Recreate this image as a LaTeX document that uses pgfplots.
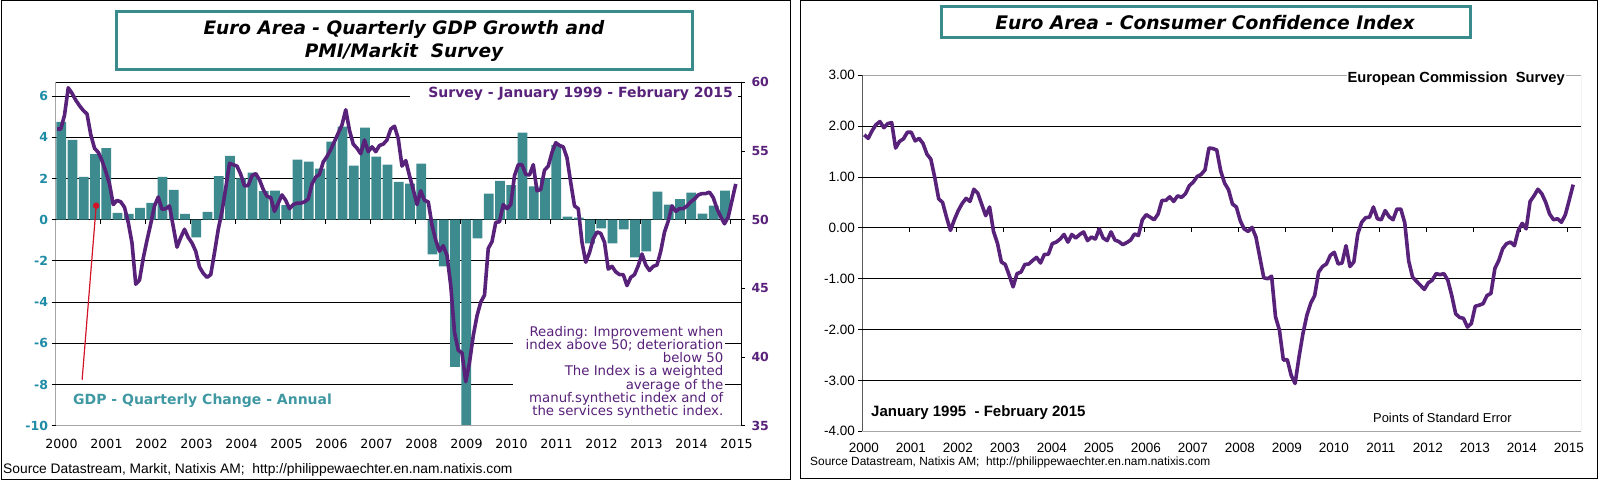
\documentclass[border=0pt]{standalone}
\usepackage{fontspec}
\setmainfont{DejaVu Sans}
\newfontfamily\lib{Liberation Sans}
\usepackage{pgfplots}
\usepackage{pgfplotstable}
\pgfplotsset{compat=1.18}

\definecolor{barteal}{RGB}{61,139,143}
\definecolor{pmipurple}{RGB}{88,33,122}
\definecolor{lblteal}{RGB}{30,140,165}
\definecolor{gdptxt}{RGB}{64,152,162}
\definecolor{boxteal}{RGB}{58,140,140}
\definecolor{annred}{RGB}{210,20,40}

\pgfplotstableread{
q v
0 4.75
1 3.87
2 2.08
3 3.18
4 3.47
5 0.33
6 0.28
7 0.57
8 0.82
9 2.08
10 1.45
11 0.28
12 -0.86
13 0.38
14 2.11
15 3.09
16 2.01
17 2.28
18 1.39
19 1.41
20 0.70
21 2.91
22 2.82
23 2.48
24 3.79
25 4.51
26 2.62
27 4.47
28 3.06
29 2.67
30 1.84
31 1.75
32 2.72
33 -1.68
34 -2.27
35 -7.15
36 -11.5
37 -0.91
38 1.26
39 1.88
40 1.68
41 4.22
42 1.62
43 2.00
44 3.62
45 0.15
46 0.10
47 -1.15
48 -0.42
49 -1.15
50 -0.47
51 -1.83
52 -1.54
53 1.36
54 0.73
55 1.00
56 1.31
57 0.29
58 0.68
59 1.41
}\gdpdata

\pgfplotstableread{
m v
0 56.6
1 56.6
2 57.6
3 59.6
4 59.2
5 58.7
6 58.3
7 57.95
8 57.7
9 56.2
10 55.2
11 54.9
12 54.3
13 53.5
14 52.6
15 51.1
16 51.4
17 51.3
18 50.9
19 49.8
20 48.3
21 45.3
22 45.6
23 47.2
24 48.5
25 49.7
26 51.0
27 51.65
28 50.75
29 50.8
30 51.0
31 49.5
32 48.0
33 48.7
34 49.3
35 48.7
36 48.3
37 47.7
38 46.55
39 46.1
40 45.8
41 46.0
42 47.6
43 49.3
44 50.6
45 52.3
46 54.1
47 54.0
48 53.9
49 53.3
50 52.45
51 52.5
52 53.2
53 53.35
54 52.9
55 52.2
56 51.7
57 51.6
58 50.6
59 51.2
60 51.8
61 51.4
62 50.8
63 51.1
64 51.2
65 51.2
66 51.3
67 51.5
68 52.6
69 53.1
70 53.3
71 54.2
72 54.6
73 55.1
74 55.7
75 56.3
76 56.9
77 58.0
78 56.5
79 55.5
80 55.2
81 54.8
82 55.8
83 54.95
84 55.3
85 54.95
86 55.4
87 55.5
88 55.8
89 56.6
90 56.8
91 55.9
92 53.9
93 54.3
94 53.2
95 52.2
96 51.1
97 52.1
98 51.4
99 51.3
100 49.6
101 48.5
102 47.7
103 48.1
104 47.4
105 45.2
106 41.8
107 40.5
108 40.3
109 38.2
110 39.6
111 41.55
112 43.0
113 44.0
114 44.5
115 47.9
116 48.4
117 49.8
118 49.85
119 51.1
120 50.8
121 51.1
122 53.2
123 54.0
124 54.0
125 53.3
126 53.25
127 54.0
128 52.1
129 52.2
130 53.6
131 53.9
132 54.9
133 55.6
134 55.4
135 55.3
136 54.5
137 52.7
138 51.0
139 50.8
140 48.35
141 46.9
142 47.6
143 48.6
144 49.1
145 49.0
146 48.35
147 46.4
148 46.6
149 46.2
150 46.0
151 46.0
152 45.2
153 45.8
154 46.0
155 46.65
156 47.5
157 46.7
158 46.3
159 46.6
160 46.7
161 47.7
162 49.1
163 49.9
164 51.0
165 50.6
166 50.8
167 50.8
168 51.0
169 51.3
170 51.5
171 51.8
172 51.9
173 51.9
174 52.0
175 51.6
176 50.8
177 50.2
178 49.7
179 50.2
180 51.4
181 52.6
}\pmidata

\pgfplotstableread{
m v
0 1.83
1 1.76
2 1.91
3 2.03
4 2.09
5 1.97
6 2.05
7 2.07
8 1.57
9 1.70
10 1.75
11 1.88
12 1.88
13 1.71
14 1.76
15 1.66
16 1.45
17 1.35
18 0.99
19 0.57
20 0.50
21 0.21
22 -0.05
23 0.16
24 0.34
25 0.48
26 0.58
27 0.52
28 0.76
29 0.68
30 0.46
31 0.24
32 0.41
33 -0.07
34 -0.30
35 -0.67
36 -0.72
37 -0.93
38 -1.16
39 -0.90
40 -0.87
41 -0.72
42 -0.71
43 -0.64
44 -0.58
45 -0.69
46 -0.52
47 -0.52
48 -0.31
49 -0.28
50 -0.22
51 -0.13
52 -0.28
53 -0.13
54 -0.20
55 -0.13
56 -0.08
57 -0.25
58 -0.18
59 -0.22
60 -0.02
61 -0.20
62 -0.25
63 -0.08
64 -0.24
65 -0.27
66 -0.33
67 -0.29
68 -0.24
69 -0.12
70 -0.15
71 0.16
72 0.26
73 0.21
74 0.16
75 0.27
76 0.54
77 0.54
78 0.61
79 0.52
80 0.63
81 0.60
82 0.67
83 0.83
84 0.90
85 1.01
86 1.05
87 1.14
88 1.57
89 1.56
90 1.53
91 1.12
92 0.88
93 0.75
94 0.47
95 0.41
96 0.14
97 -0.02
98 -0.07
99 0.01
100 -0.18
101 -0.58
102 -0.98
103 -1.00
104 -0.95
105 -1.75
106 -2.01
107 -2.60
108 -2.59
109 -2.90
110 -3.06
111 -2.54
112 -2.08
113 -1.72
114 -1.48
115 -1.33
116 -0.87
117 -0.76
118 -0.71
119 -0.54
120 -0.48
121 -0.71
122 -0.69
123 -0.35
124 -0.76
125 -0.67
126 -0.12
127 0.11
128 0.20
129 0.21
130 0.41
131 0.18
132 0.16
133 0.34
134 0.22
135 0.16
136 0.37
137 0.37
138 0.10
139 -0.65
140 -0.97
141 -1.05
142 -1.13
143 -1.21
144 -1.08
145 -1.03
146 -0.90
147 -0.92
148 -0.90
149 -1.03
150 -1.33
151 -1.69
152 -1.76
153 -1.78
154 -1.95
155 -1.88
156 -1.54
157 -1.52
158 -1.49
159 -1.33
160 -1.29
161 -0.80
162 -0.64
163 -0.41
164 -0.31
165 -0.28
166 -0.35
167 -0.05
168 0.09
169 -0.02
170 0.52
171 0.63
172 0.76
173 0.67
174 0.50
175 0.27
176 0.16
177 0.18
178 0.11
179 0.26
180 0.55
181 0.85
}\ccdata

\begin{document}
\begin{tikzpicture}[x=1pt,y=-1pt]
\path[use as bounding box] (0,0) rectangle (1600,481);
% panel frames
\draw[black,line width=1pt] (1,1) rectangle (790,479);
\draw[black,line width=1pt] (800,0.5) rectangle (1597,478);

% ================= LEFT: GDP bars =================
\begin{axis}[
  at={(55.5pt,-425.7pt)}, anchor=south west,
  scale only axis, width=685.5pt, height=343.4pt,
  xmin=0, xmax=182.8, ymin=-10, ymax=6.667,
  axis line style={draw=none},
  xtick={1.6,13.6,...,181.6},
  xticklabels={2000,2001,2002,2003,2004,2005,2006,2007,2008,2009,2010,2011,2012,2013,2014,2015},
  xtick style={draw=none},
  xticklabel style={font=\fontsize{12.6}{14}\selectfont, text=black, yshift=-6pt},
  ytick={-8,-6,-4,-2,0,2,4,6},
  yticklabels={-8,-6,-4,-2,0,2,4,6},
  extra y ticks={-10}, extra y tick labels={-10},
  extra y tick style={grid=none},
  ytick pos=left, tick align=outside, major tick length=4pt,
  ytick style={black, line width=0.8pt},
  yticklabel style={font=\bfseries\fontsize{12.5}{14}\selectfont, text=lblteal},
  ymajorgrids, major grid style={black, line width=0.9pt},
]
\addplot[ybar, bar width=2.6, bar shift=0pt, fill=barteal, draw=none]
  table[x expr=3*\thisrow{q}+1.55, y=v] {\gdpdata};
\pgfplotsinvokeforeach{12,24,...,180}{\draw[black,line width=0.8pt] (axis cs:#1,0) -- ++(0pt,-4.5pt);}
\draw[black,line width=0.9pt] (rel axis cs:0,0) -- (rel axis cs:0,1) -- (rel axis cs:1,1);
\draw[gray!70,line width=0.9pt] (rel axis cs:0,0) -- (rel axis cs:1,0);
\addplot[annred, line width=1.2pt] coordinates {(7.1,-7.77) (10.85,0.68)};
\addplot[only marks, mark=*, mark size=3pt, annred] coordinates {(10.85,0.68)};
\end{axis}

% ================= LEFT: PMI line =================
\begin{axis}[
  at={(55.5pt,-425.7pt)}, anchor=south west,
  scale only axis, width=685.5pt, height=343.4pt,
  xmin=0, xmax=182.8, ymin=35, ymax=60,
  axis x line=none, axis y line*=right,
  axis line style={black, line width=0.9pt, -},
  ytick={35,40,45,50,55,60}, yticklabels={35,40,45,50,55,60},
  tick align=outside, major tick length=4pt,
  ytick style={black, line width=0.8pt},
  yticklabel style={font=\bfseries\fontsize{12.5}{14}\selectfont, text=pmipurple, xshift=3pt},
]
\addplot[pmipurple, line width=3.6pt, line join=round]
  table[x expr=\thisrow{m}+0.4, y=v] {\pmidata};
\end{axis}

% left annotations
\fill[white] (410,86) rectangle (738,102);
\node[anchor=east, inner sep=0pt, text=pmipurple, font=\bfseries\fontsize{14}{16}\selectfont] at (733,94) {Survey - January 1999 - February 2015};
\node[anchor=west, inner sep=0pt, text=gdptxt, font=\bfseries\fontsize{14}{16}\selectfont] at (73,401) {GDP - Quarterly Change - Annual};
\fill[white] (513,325) rectangle (725,418);
\node[anchor=north east, inner sep=0pt, align=right, text=pmipurple, font=\fontsize{13.3}{13.2}\selectfont] at (723.5,326)
 {Reading: Improvement when\\index above 50; deterioration\\below 50\\The Index is a weighted\\average of the\\manuf.synthetic index and of\\the services synthetic index.};
% left title
\draw[boxteal, line width=3pt] (116,12) rectangle (692,70);
\node[align=center, inner sep=0pt, font=\bfseries\itshape\fontsize{18.5}{23}\selectfont] at (404,41)
 {Euro Area - Quarterly GDP Growth and\\PMI/Markit\ \ Survey};
\node[anchor=west, inner sep=0pt, font=\lib\fontsize{13.8}{15}\selectfont] at (3,470)
 {Source Datastream, Markit, Natixis AM;\ \ http://philippewaechter.en.nam.natixis.com};

% ================= RIGHT: consumer confidence =================
\begin{axis}[
  at={(862.3pt,-431.3pt)}, anchor=south west,
  scale only axis, width=718.7pt, height=356pt,
  xmin=0, xmax=183.5, ymin=-4, ymax=3,
  axis line style={draw=none},
  xtick={0.4,12.4,...,180.4},
  xticklabels={2000,2001,2002,2003,2004,2005,2006,2007,2008,2009,2010,2011,2012,2013,2014,2015},
  xtick style={draw=none},
  xticklabel style={font=\lib\fontsize{13.5}{15}\selectfont, text=black, yshift=-4pt},
  ytick={-3,-2,-1,0,1,2},
  yticklabels={-3.00,-2.00,-1.00,0.00,1.00,2.00},
  extra y ticks={-4,3}, extra y tick labels={-4.00,3.00},
  extra y tick style={grid=none},
  ytick pos=left, tick align=outside, major tick length=4pt,
  ytick style={black, line width=0.8pt},
  yticklabel style={font=\lib\fontsize{13.5}{15}\selectfont, text=black},
  ymajorgrids, major grid style={black, line width=0.9pt},
]
\draw[gray!70,line width=0.9pt] (rel axis cs:0,1) -- (rel axis cs:1,1) -- (rel axis cs:1,0) -- (rel axis cs:0,0);
\draw[black,line width=0.9pt] (rel axis cs:0,0) -- (rel axis cs:0,1);
\pgfplotsinvokeforeach{12,24,...,180}{\draw[black,line width=0.8pt] (axis cs:#1,0) -- ++(0pt,-4.5pt);}
\addplot[pmipurple, line width=3.6pt, line join=round]
  table[x expr=\thisrow{m}+0.5, y=v] {\ccdata};
\end{axis}

% right annotations
\draw[boxteal, line width=3pt] (941,7) rectangle (1470,38);
\node[inner sep=0pt, font=\bfseries\itshape\fontsize{18.7}{22}\selectfont] at (1205,23)
 {Euro Area - Consumer Confidence Index};
\node[anchor=east, inner sep=1pt, fill=white, font=\lib\bfseries\fontsize{14.7}{16}\selectfont] at (1566,79) {European Commission\ \ Survey};
\node[anchor=west, inner sep=0pt, font=\lib\bfseries\fontsize{15}{16}\selectfont] at (871,413) {January 1995\ \ - February 2015};
\node[anchor=west, inner sep=0pt, font=\lib\fontsize{12.9}{15}\selectfont] at (1373,418) {Points of Standard Error};
\node[anchor=west, inner sep=0pt, font=\lib\fontsize{11.9}{14}\selectfont] at (810,462)
 {Source Datastream, Natixis AM;\ \ http://philippewaechter.en.nam.natixis.com};
\end{tikzpicture}
\end{document}
